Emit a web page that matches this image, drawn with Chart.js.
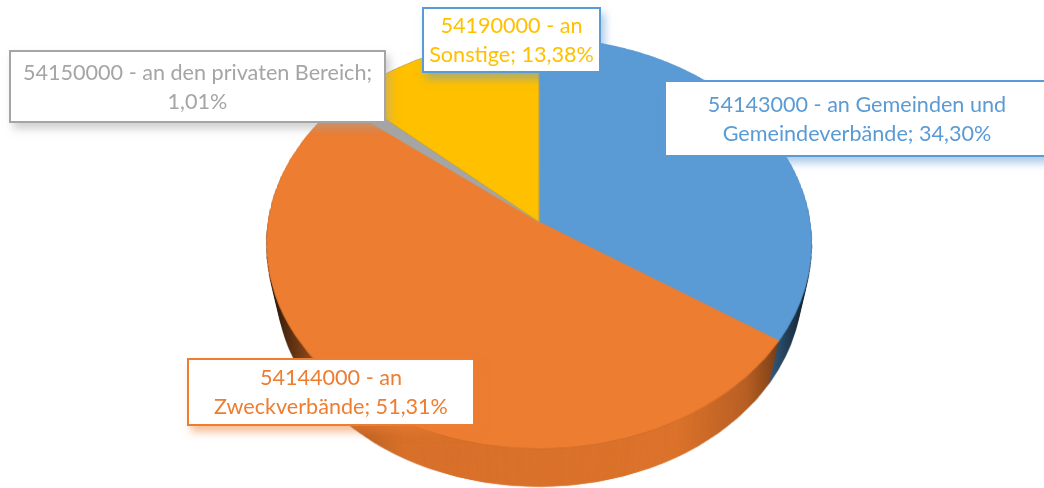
<!DOCTYPE html>
<html>
<head>
<meta charset="utf-8">
<script src="https://cdn.jsdelivr.net/npm/chart.js@4"></script>
<style>
  html, body { margin: 0; padding: 0; background: #fff; }
  #wrap { position: relative; width: 1044px; height: 488px; overflow: hidden; }
  #pie { position: absolute; left: 0; top: 0; }
  .lbl {
    position: absolute; box-sizing: border-box; background: #fff;
    border-style: solid; border-width: 2.5px;
    font: 21.6px/29px Lato, "Open Sans", sans-serif; text-align: center;
    display: flex; align-items: center; justify-content: center;
  }
</style>
</head>
<body>
<div id="wrap"><canvas id="pie" width="1044" height="488"></canvas></div>
<script>
const categories = ["54143000", "54144000", "54150000", "54190000"];
const shares = [34.30, 51.31, 1.01, 13.38];
const sliceColors = ["#5B9BD5", "#ED7D31", "#A5A5A5", "#FFC000"];
const edgeColors = ["#5B9BD5", "#ED7D31", "#A5A598", "#B9A050"];

const firstLines = [" - an Gemeinden und", " - an", " - an den privaten Bereich;", " - an"];
const secondLines = ["Gemeindeverbände; ", "Zweckverbände; ", "", "Sonstige; "];
const labelBorders = ["#5B9BD5", "#ED7D31", "#A5A5A5", "#5B9BD5"];
// left, top, width, height of each callout
const labelBoxes = [
  [664, 80, 386, 77],
  [187, 358, 288, 68],
  [9, 50, 377, 73],
  [422, 7, 179, 66]
];

/* ---------- Perspective of the pie face (fitted from the picture) ---------- */
const APEX_X = 539, APEX_Y = 222;
const FACE_TOP = 184, FACE_BOTTOM = 226;
const TILT = 0.1024, FACE_V = 202.8, FACE_H = 270.6;
const DEPTH = 47, DEPTH_SHRINK = 0.04, RIM_CY = 240;

function newLayer(w, h) {
  const c = document.createElement("canvas");
  c.width = w; c.height = h;
  return c;
}

// Chart.js draws a flat pie, then this bends it into the tilted 3D look
const tiltPlugin = {
  id: "tiltPie",
  afterDatasetsDraw(chart) {
    const { ctx, canvas } = chart;
    const arc = chart.getDatasetMeta(0).data[0];
    const R = arc.outerRadius, cx = arc.x, cy = arc.y;
    const W = canvas.width, H = canvas.height;

    const flat = newLayer(W, H);
    flat.getContext("2d").drawImage(canvas, 0, 0);

    const face = newLayer(W, H);
    const fc = face.getContext("2d");
    for (let Y = -FACE_TOP - 3; Y < FACE_BOTTOM + 3; Y++) {
      const v0 = Y / (FACE_V + TILT * Y);
      const v1 = (Y + 1) / (FACE_V + TILT * (Y + 1));
      const h = (FACE_H / R) / (1 - TILT * (v0 + v1) / 2);
      const half = R + 2;
      fc.drawImage(flat, cx - half, cy + v0 * R, half * 2, (v1 - v0) * R,
        APEX_X - half * h, APEX_Y + Y, half * 2 * h, 1);
    }

    // side wall: stacked copies of the face, moving down and shrinking
    const stack = newLayer(W, H);
    const st = stack.getContext("2d");
    for (let d = DEPTH; d >= 1; d--) {
      const k = 1 - DEPTH_SHRINK * d / DEPTH;
      st.setTransform(k, 0, 0, k, APEX_X * (1 - k), RIM_CY * (1 - k) + d);
      st.drawImage(face, 0, 0);
    }

    const side = newLayer(W, H);
    const sc = side.getContext("2d");
    sc.drawImage(stack, 0, 0);
    sc.globalCompositeOperation = "multiply";
    const shade = sc.createLinearGradient(266, 0, 812, 0);
    shade.addColorStop(0, "#0d0d0d");
    shade.addColorStop(0.03, "#4d4d4d");
    shade.addColorStop(0.1, "#b3b3b3");
    shade.addColorStop(0.25, "#e8e8e8");
    shade.addColorStop(0.75, "#ededed");
    shade.addColorStop(0.88, "#c7c7c7");
    shade.addColorStop(0.93, "#8c8c8c");
    shade.addColorStop(1, "#262626");
    sc.fillStyle = shade;
    sc.fillRect(0, 0, W, H);
    sc.globalCompositeOperation = "destination-in";
    sc.drawImage(stack, 0, 0);

    ctx.save();
    ctx.clearRect(0, 0, W, H);
    ctx.filter = "blur(0.7px)";
    ctx.drawImage(side, 0, 0);
    ctx.filter = "brightness(0.88)";
    ctx.drawImage(face, 0, 1);
    ctx.filter = "none";
    ctx.drawImage(face, 0, 0);
    ctx.restore();
  }
};

new Chart(document.getElementById("pie"), {
  type: "pie",
  data: {
    labels: categories,
    datasets: [{ data: shares, backgroundColor: sliceColors, borderColor: edgeColors, borderWidth: 1 }]
  },
  options: {
    responsive: false,
    animation: false,
    layout: { padding: 2 },
    plugins: { legend: { display: false }, tooltip: { enabled: false } }
  },
  plugins: [tiltPlugin]
});

/* ---------- Callouts ---------- */
const wrap = document.getElementById("wrap");
categories.forEach((code, i) => {
  const [x, y, w, h] = labelBoxes[i];
  const pct = shares[i].toFixed(2).replace(".", ",") + "%";
  const el = document.createElement("div");
  el.className = "lbl";
  el.style.cssText = `left:${x}px;top:${y}px;width:${w}px;height:${h}px;` +
    `color:${sliceColors[i]};border-color:${labelBorders[i]};` +
    `box-shadow:4px 6px 8px ${labelBorders[i]}80;`;
  const inner = document.createElement("div");
  inner.append(code + firstLines[i], document.createElement("br"), secondLines[i] + pct);
  el.appendChild(inner);
  wrap.appendChild(el);
});
</script>
</body>
</html>
